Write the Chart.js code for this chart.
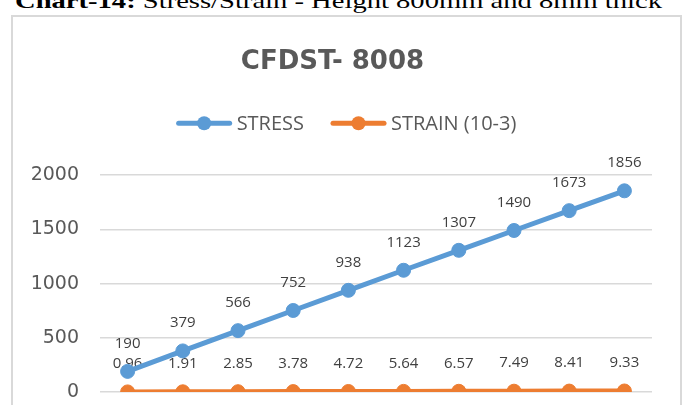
<!DOCTYPE html>
<html>
<head>
<meta charset="utf-8">
<script src="https://cdn.jsdelivr.net/npm/chart.js@4.4.1/dist/chart.umd.min.js"></script>
<style>
  html, body { margin: 0; padding: 0; background: #fff; overflow: hidden; width: 686px; height: 405px; }
  #legenda-topo { position: absolute; left: 15px; top: -10px; font-family: 'Liberation Serif', serif; font-size: 22px; line-height: 22px; white-space: nowrap; color: #000; transform-origin: 0 0; }
  #moldura { position: absolute; left: 11px; top: 15px; width: 671px; height: 440px; border: 2px solid #d9d9d9; box-sizing: border-box; background: #fff; }
  #moldura canvas { display: block; }
</style>
</head>
<body>
<div id="legenda-topo"><b>Chart-14:</b> Stress/Strain - Height 800mm and 8mm thick</div>
<div id="moldura"><canvas id="grafico" width="667" height="436"></canvas></div>
<script>
const categorias = ['1', '2', '3', '4', '5', '6', '7', '8', '9', '10'];
const tensao = [190, 379, 566, 752, 938, 1123, 1307, 1490, 1673, 1856];
const deformacao = [0.96, 1.91, 2.85, 3.78, 4.72, 5.64, 6.57, 7.49, 8.41, 9.33];
const nomesSeries = ['STRESS', 'STRAIN (10-3)'];
const ticksY = [0, 500, 1000, 1500, 2000];

// ajusta a legenda de cima para a largura da imagem
const topo = document.getElementById('legenda-topo');
const escala = 647 / topo.getBoundingClientRect().width;
topo.style.transform = `scaleX(${escala})`;

// rotulos de dados acima de cada ponto
const rotulosPlugin = {
  id: 'rotulos',
  beforeDatasetsDraw(chart) {
    const ctx = chart.ctx;
    ctx.save();
    ctx.font = '15px "Open Sans"';
    ctx.fillStyle = '#404040';
    ctx.textAlign = 'center';
    ctx.textBaseline = 'middle';
    chart.data.datasets.forEach((ds, i) => {
      chart.getDatasetMeta(i).data.forEach((pt, j) => {
        ctx.fillText(String(ds.data[j]), pt.x, pt.y - 28);
      });
    });
    ctx.restore();
  }
};

// legenda no estilo do excel: linha com marcador
const legendaPlugin = {
  id: 'legenda',
  afterDraw(chart) {
    const ctx = chart.ctx;
    ctx.save();
    ctx.font = '20px "Open Sans"';
    const larguraLinha = 55;
    const gapTexto = 5;
    const gapItem = 27;
    const itens = chart.data.datasets.map(ds => ({
      texto: ds.label,
      cor: ds.borderColor,
      w: ctx.measureText(ds.label).width
    }));
    const total = itens.reduce((s, it) => s + larguraLinha + gapTexto + it.w, 0) + gapItem * (itens.length - 1);
    let x = chart.width / 2 - total / 2;
    const y = chart.chartArea.top - 52;
    itens.forEach(it => {
      ctx.strokeStyle = it.cor;
      ctx.lineWidth = 5;
      ctx.lineCap = 'round';
      ctx.beginPath();
      ctx.moveTo(x + 2, y);
      ctx.lineTo(x + larguraLinha - 2, y);
      ctx.stroke();
      ctx.fillStyle = it.cor;
      ctx.beginPath();
      ctx.arc(x + larguraLinha / 2, y, 7, 0, Math.PI * 2);
      ctx.fill();
      ctx.fillStyle = '#595959';
      ctx.textAlign = 'left';
      ctx.textBaseline = 'middle';
      ctx.fillText(it.texto, x + larguraLinha + gapTexto, y + 1);
      x += larguraLinha + gapTexto + it.w + gapItem;
    });
    ctx.restore();
  }
};

new Chart(document.getElementById('grafico'), {
  type: 'line',
  data: {
    labels: categorias,
    datasets: [
      {
        label: nomesSeries[0],
        data: tensao,
        borderColor: '#5B9BD5',
        backgroundColor: '#5B9BD5',
        borderWidth: 5,
        pointRadius: 7,
        pointBorderWidth: 1,
        tension: 0
      },
      {
        label: nomesSeries[1],
        data: deformacao,
        borderColor: '#ED7D31',
        backgroundColor: '#ED7D31',
        borderWidth: 5,
        pointRadius: 7,
        pointBorderWidth: 1,
        tension: 0
      }
    ]
  },
  options: {
    responsive: false,
    animation: false,
    layout: { padding: { left: 0, right: 28, top: 0, bottom: 61 } },
    plugins: {
      legend: { display: false },
      tooltip: { enabled: false },
      title: {
        display: true,
        text: 'CFDST- 8008',
        color: '#595959',
        font: { family: 'DejaVu Sans', size: 26, weight: 'bold' },
        padding: { top: 30, bottom: 97 }
      }
    },
    scales: {
      x: {
        display: false,
        offset: true
      },
      y: {
        min: ticksY[0],
        max: ticksY[ticksY.length - 1],
        afterBuildTicks: (scale) => { scale.ticks = ticksY.map(v => ({ value: v })); },
        afterFit: (scale) => { scale.width = 87; },
        ticks: {
          color: '#595959',
          font: { family: 'DejaVu Sans', size: 19 },
          padding: 21,
          callback: (v) => String(v)
        },
        grid: { color: '#d9d9d9', lineWidth: 1.5, drawTicks: false },
        border: { display: false }
      }
    }
  },
  plugins: [rotulosPlugin, legendaPlugin]
});
</script>
</body>
</html>
